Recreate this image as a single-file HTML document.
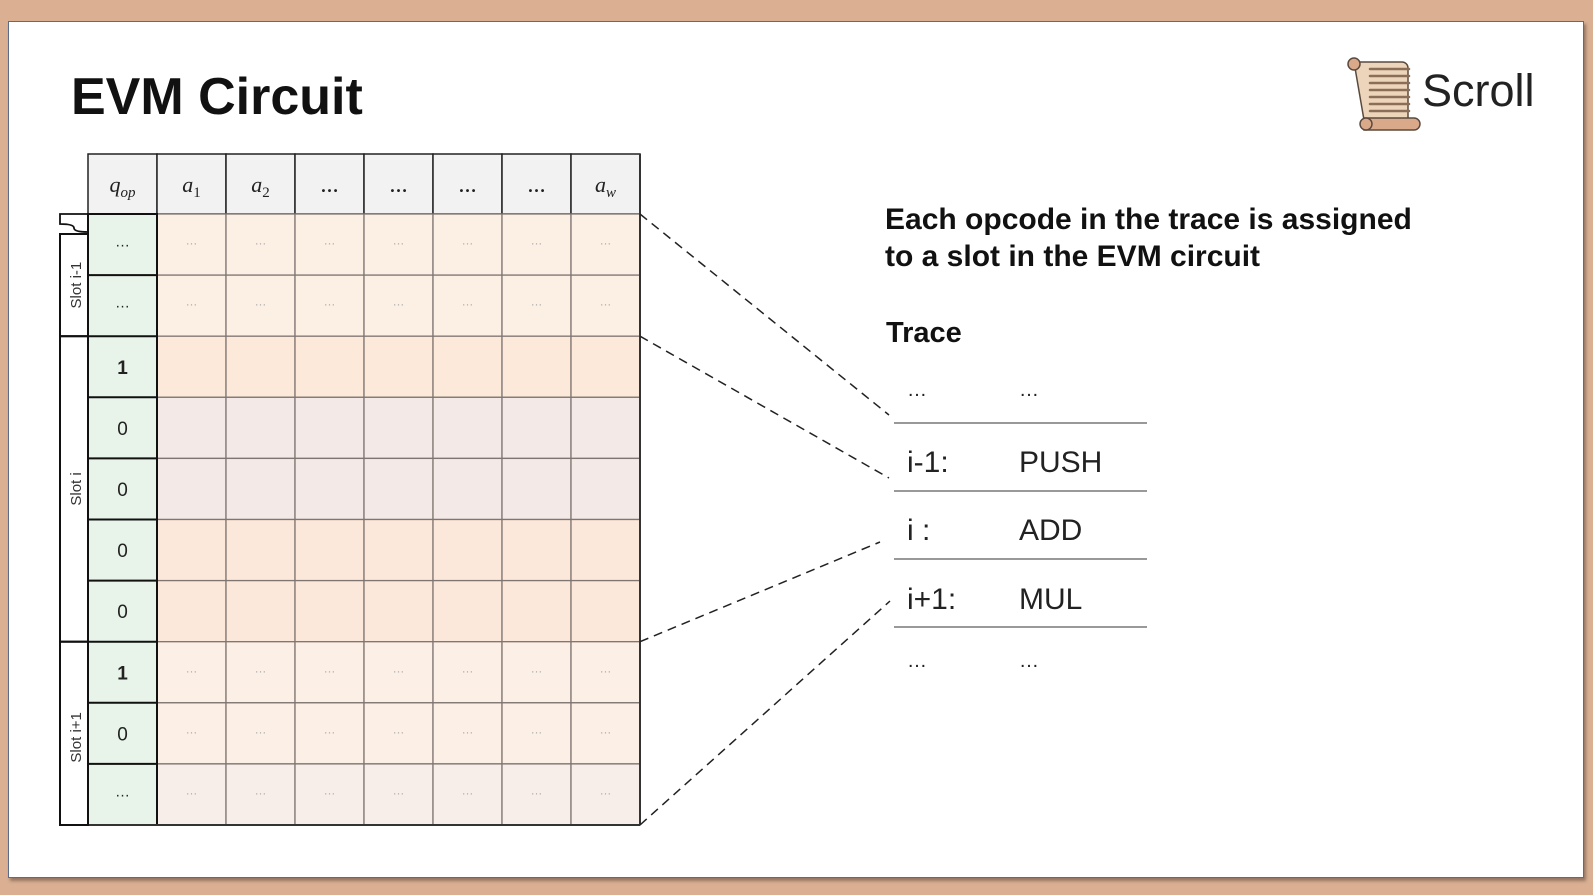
<!DOCTYPE html>
<html><head><meta charset="utf-8">
<style>
html,body{margin:0;padding:0;}
body{width:1593px;height:895px;background:#dbb092;position:relative;overflow:hidden;font-family:"Liberation Sans",sans-serif;}
#slide{position:absolute;left:8px;top:21px;width:1574px;height:855px;background:#fff;border:1px solid #5a6b8c;box-shadow:2px 3px 3px rgba(80,60,50,0.5);}
svg{position:absolute;left:0;top:0;}
</style></head>
<body>
<div id="slide"></div>
<svg id="svg" width="1593" height="895" viewBox="0 0 1593 895">
  <text x="71" y="114" font-family="Liberation Sans, sans-serif" font-weight="bold" font-size="52" fill="#111">EVM Circuit</text>
  <g>
    <path d="M1354,62 h48 a6,6 0 0 1 6,6 v52 h-44 z" fill="#ecd5bb" stroke="#5a4a3e" stroke-width="1.5"/>
    <circle cx="1354" cy="64" r="6" fill="#d9a98a" stroke="#5a4a3e" stroke-width="1.5"/>
    <path d="M1364,118 h50 a6,6 0 0 1 0,12 h-50 z" fill="#d9a98a" stroke="#5a4a3e" stroke-width="1.5"/>
    <circle cx="1366" cy="124" r="6" fill="#d9a98a" stroke="#5a4a3e" stroke-width="1.5"/>
    <g stroke="#8a6e58" stroke-width="2.5" stroke-linecap="round">
      <line x1="1370" y1="69" x2="1409" y2="69"/><line x1="1370" y1="76" x2="1409" y2="76"/>
      <line x1="1370" y1="83" x2="1409" y2="83"/><line x1="1370" y1="90" x2="1409" y2="90"/>
      <line x1="1370" y1="97" x2="1409" y2="97"/><line x1="1370" y1="104" x2="1409" y2="104"/>
      <line x1="1370" y1="111" x2="1409" y2="111"/>
    </g>
    <text x="1422" y="106" font-family="Liberation Sans, sans-serif" font-size="45" fill="#222">Scroll</text>
  </g>
  <g id="grid"></g>
  <g id="links"></g>
  <text x="885" y="229" font-weight="bold" font-size="30" fill="#111">Each opcode in the trace is assigned</text>
  <text x="885" y="266" font-weight="bold" font-size="30" fill="#111">to a slot in the EVM circuit</text>
  <text x="886" y="342" font-weight="bold" font-size="29" fill="#111">Trace</text>
  <g id="trace"></g>
</svg>
<script>
const NS='http://www.w3.org/2000/svg';
const headers=['q','a1','a2','…','…','…','…','aw'];
const qValues=['…','…','1','0','0','0','0','1','0','…'];
const rowFills=['#fcefe4','#fcefe4','#fde9d9','#f3eae8','#f3eae8','#fce8da','#fce8da','#fcefe5','#fcefe5','#f8eee9'];
const rowDots=[1,1,0,0,0,0,0,1,1,1];
const slots=[{label:'Slot i-1',from:0,to:2},{label:'Slot i',from:2,to:7},{label:'Slot i+1',from:7,to:10}];
const traceIdx=['…','i-1:','i  :','i+1:','…'];
const traceOp=['…','PUSH','ADD','MUL','…'];
const X0=88,CW=69,Y0=154,HH=60,RH=61.1;
function mk(tag,at,p){const e=document.createElementNS(NS,tag);for(const k in at)e.setAttribute(k,at[k]);(p||document.getElementById('grid')).appendChild(e);return e;}
const nR=qValues.length, nC=headers.length;
const rowY=r=>Y0+HH+r*RH;
const colX=c=>X0+c*CW;
for(let c=0;c<nC;c++){
  const r=mk('rect',{x:colX(c),y:Y0,width:CW,height:HH,fill:'#f2f2f2',stroke:'#222','stroke-width':1.5});
  
  
  const t=mk('text',{x:colX(c)+CW/2,y:Y0+38,'text-anchor':'middle','font-family':'Liberation Serif, serif','font-size':22,fill:'#222'});
  
  
  const h=headers[c];
  if(h==='…'){t.textContent='…';t.setAttribute('font-weight','bold');t.setAttribute('font-size','18');}
  else{
    const a=document.createElementNS(NS,'tspan');a.setAttribute('font-style','italic');a.textContent=h[0];t.appendChild(a);
    const s=document.createElementNS(NS,'tspan');s.setAttribute('font-size','15');s.setAttribute('dy','5');
    if(h==='q'){s.textContent='op';s.setAttribute('font-style','italic');}
    else{s.textContent=h.slice(1);if(h[1]==='w')s.setAttribute('font-style','italic');}
    t.appendChild(s);
  }
}
for(let r=0;r<nR;r++){
  for(let c=0;c<nC;c++){
    const cell=mk('rect',{x:colX(c),y:rowY(r),width:CW,height:RH,fill:c===0?'#e8f3ea':rowFills[r],stroke:'#7f7672','stroke-width':1.3});
    
    
    if(c===0){
      const dots=qValues[r]==='…';
      const t=mk('text',{x:colX(c)+CW/2,y:rowY(r)+RH/2+(dots?2:7),'text-anchor':'middle','font-size':dots?15:19,fill:'#222','font-weight':qValues[r]==='1'?'bold':'normal'});
      t.textContent=qValues[r];
      
      
    } else if(rowDots[r]){
      const t=mk('text',{x:colX(c)+CW/2,y:rowY(r)+RH/2,'text-anchor':'middle','font-size':12,fill:'#aaa'});
      t.textContent='…';
      
      
    }
  }
  mk('line',{x1:X0,x2:X0+CW,y1:rowY(r),y2:rowY(r),stroke:'#111','stroke-width':2});
}
mk('rect',{x:X0,y:rowY(0),width:CW,height:nR*RH,fill:'none',stroke:'#111','stroke-width':2});
mk('line',{x1:X0,x2:colX(nC),y1:rowY(nR),y2:rowY(nR),stroke:'#333','stroke-width':2});
mk('line',{x1:colX(nC),x2:colX(nC),y1:Y0,y2:rowY(nR),stroke:'#333','stroke-width':2});
slots.forEach((s,i)=>{
  let y1=rowY(s.from), y2=rowY(s.to);
  if(i===0){y1+=20;
    const p=mk('path',{d:`M${X0},${rowY(0)} H60 V${rowY(0)+10} Q74,${rowY(0)+10} 74,${rowY(0)+14} Q74,${rowY(0)+18} 88,${rowY(0)+18}`,fill:'none',stroke:'#111','stroke-width':1.8});
    
    
  }
  const b=mk('rect',{x:60,y:y1,width:X0-60,height:y2-y1,fill:'none',stroke:'#111','stroke-width':2});
  
  
  const cy=(rowY(s.from)+rowY(s.to))/2+(i===0?10:(i===2?4:0));
  const t=mk('text',{x:0,y:0,transform:`translate(81,${cy}) rotate(-90)`,'text-anchor':'middle','font-size':15,fill:'#333'});
  t.textContent=s.label;
  
  
});
const tg=document.getElementById('trace');
const TY=[386,462,530,599,657];
traceIdx.forEach((v,i)=>{
  const dots=v==='…';
  const a=mk('text',{x:907,y:TY[i]+10,'font-size':dots?20:30,fill:'#222'},tg);
  a.textContent=v;
  
  
  const b=mk('text',{x:1019,y:TY[i]+10,'font-size':dots?20:30,fill:'#222'},tg);
  b.textContent=traceOp[i];
  
  
  if(i<4){
    const l=mk('line',{x1:894,x2:1147,y1:423+i*68,y2:423+i*68,stroke:'#999','stroke-width':2},tg);
    
    
  }
});
const lg=document.getElementById('links');
const links=[[rowY(0),889,415],[rowY(2),889,478],[rowY(7),880,542],[rowY(10),890,601]];
links.forEach(l=>{
  const e=mk('line',{x1:colX(nC),y1:l[0],x2:l[1],y2:l[2],stroke:'#222','stroke-width':1.5,'stroke-dasharray':'9,6'},lg);
  
  
});
</script>
</body></html>
